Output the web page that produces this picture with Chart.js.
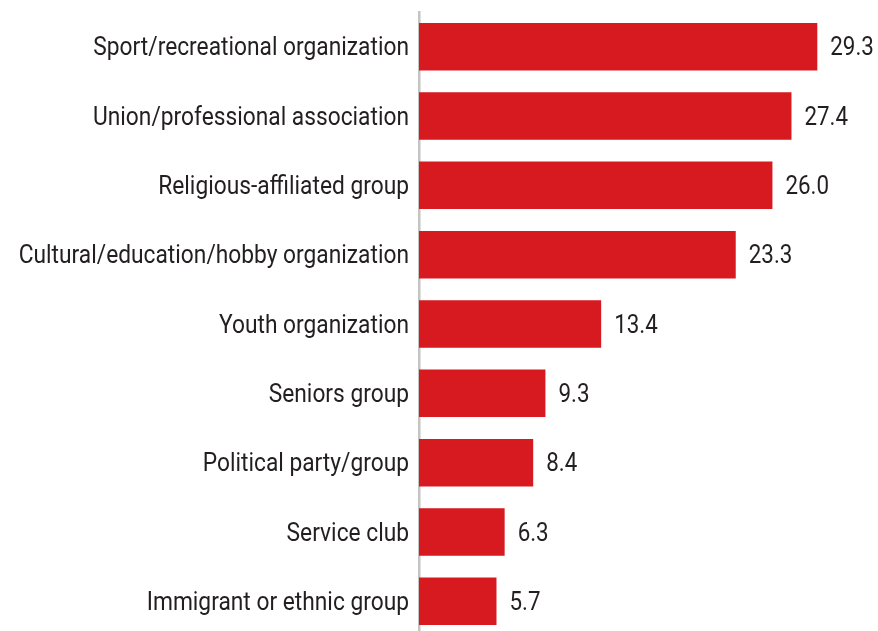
<!DOCTYPE html>
<html>
<head>
<meta charset="utf-8">
<script src="https://cdn.jsdelivr.net/npm/chart.js@4"></script>
<style>
  html, body { margin: 0; padding: 0; background: #fff; overflow: hidden; }
  #wrap { position: relative; width: 878px; height: 640px; }
</style>
</head>
<body>
<div id="wrap"><canvas id="chart"></canvas></div>
<script>
// Participation by type of organization (%)
const categories = [
    'Sport/recreational organization',
    'Union/professional association',
    'Religious-affiliated group',
    'Cultural/education/hobby organization',
    'Youth organization',
    'Seniors group',
    'Political party/group',
    'Service club',
    'Immigrant or ethnic group'
];
const values = [29.3, 27.4, 26.0, 23.3, 13.4, 9.3, 8.4, 6.3, 5.7];

const FONT = '25px Roboto, sans-serif';
const TEXT_COLOR = '#231f20';

// draw text narrowed horizontally by `squeeze`
function squeezedText(ctx, text, x, y, align, squeeze) {
    ctx.save();
    ctx.translate(x, y);
    ctx.scale(squeeze, 1);
    ctx.textAlign = align;
    ctx.fillText(text, 0, 0);
    ctx.restore();
}

// Category names left of the axis, values past the end of each bar
const barText = {
    id: 'barText',
    afterDatasetsDraw(chart) {
        const ctx = chart.ctx;
        const yScale = chart.scales.y;
        const meta = chart.getDatasetMeta(0);
        ctx.save();
        ctx.fillStyle = TEXT_COLOR;
        ctx.font = FONT;
        ctx.textBaseline = 'middle';
        categories.forEach((name, i) => {
            const y = yScale.getPixelForValue(i) + 2.5;
            squeezedText(ctx, name, chart.chartArea.left - 10, y, 'right', 0.91);
        });
        meta.data.forEach((bar, i) => {
            squeezedText(ctx, values[i].toFixed(1), bar.x + 13, bar.y + 2.5, 'left', 0.895);
        });
        ctx.restore();
    }
};

new Chart(document.getElementById('chart'), {
    type: 'bar',
    data: {
        labels: categories,
        datasets: [{
            data: values,
            backgroundColor: '#d71920',
            borderWidth: 0,
            barPercentage: 0.685,
            categoryPercentage: 1
        }]
    },
    options: {
        indexAxis: 'y',
        responsive: true,
        maintainAspectRatio: false,
        animation: false,
        layout: {
            padding: { top: 12, right: 24, bottom: 4, left: 0 }
        },
        plugins: {
            legend: { display: false },
            tooltip: { enabled: false }
        },
        scales: {
            x: {
                display: false,
                min: 0,
                max: 32
            },
            y: {
                afterFit(scale) {
                    scale.width = 419;
                    scale.paddingTop = 0;
                    scale.paddingBottom = 0;
                },
                grid: { display: false, drawTicks: false },
                border: { display: true, color: '#c4c4c2', width: 2.5 },
                ticks: { display: false }
            }
        }
    },
    plugins: [barText]
});
</script>
</body>
</html>
